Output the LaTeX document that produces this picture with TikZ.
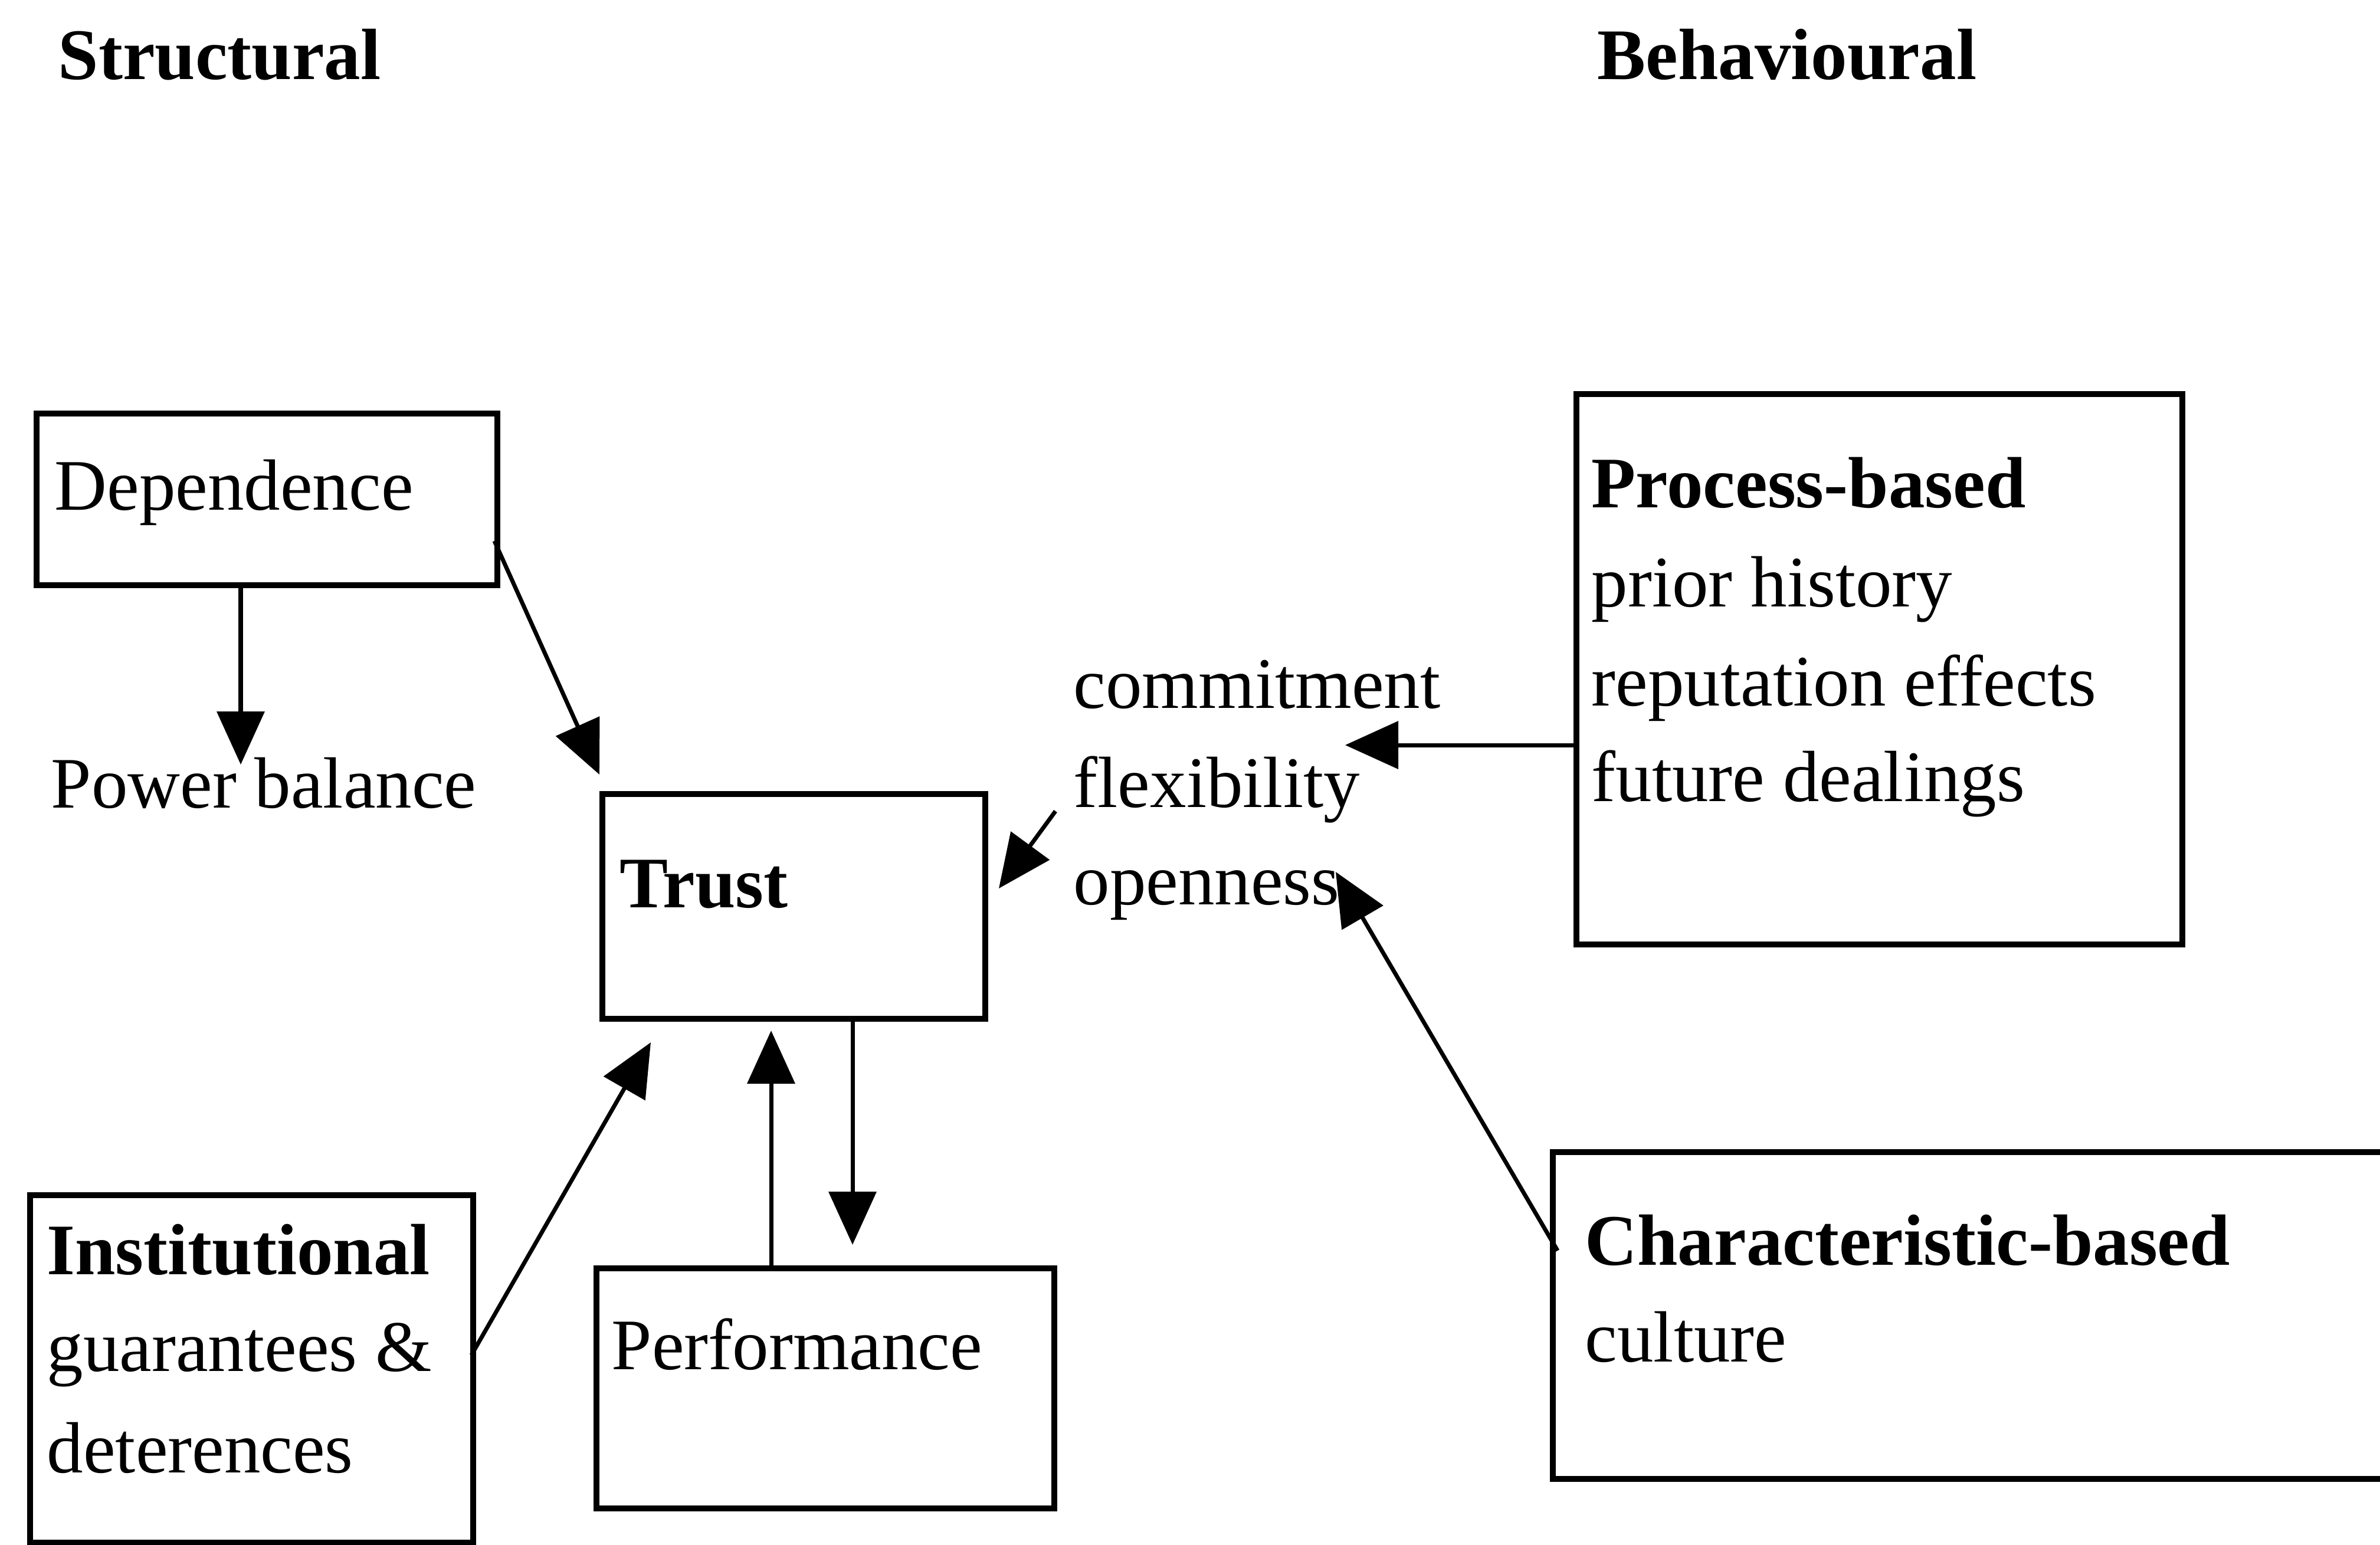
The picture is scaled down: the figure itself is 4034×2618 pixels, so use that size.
\documentclass[tikz,border=0pt]{standalone}
\usepackage{fontspec}
\setmainfont{Liberation Serif}
\usetikzlibrary{arrows.meta,calc}

\tikzset{
  box/.style={draw, line width=2.8pt, rectangle, inner sep=0pt, anchor=north west},
  txt/.style={inner sep=0pt, anchor=base west, font=\fontsize{35pt}{47pt}\selectfont},
  head/.style={txt, font=\fontsize{35pt}{47pt}\selectfont\bfseries},
  arr/.style={line width=2pt, -{Triangle[length=9mm,width=8mm]}},
}

\begin{document}
\begin{tikzpicture}[x=0.1mm, y=-0.1mm]
\useasboundingbox (0,0) rectangle (4034,2618);
\clip (0,0) rectangle (4034,2618);

% column headings
\node[head] (hstruct) at (98,134) {Structural};
\node[head] (hbehav) at (2707,134) {Behavioural};

% boxes
\node[box, minimum width=78.1mm, minimum height=29.1mm] (dep) at (57,696) {};
\node[box, minimum width=64.9mm, minimum height=38.1mm] (trust) at (1016,1341) {};
\node[box, minimum width=77.6mm, minimum height=40.7mm] (perf) at (1006,2145) {};
\node[box, minimum width=75.1mm, minimum height=58.9mm] (inst) at (46,2021) {};
\node[box, minimum width=102.7mm, minimum height=93.3mm] (proc) at (2667,663) {};
\node[box, minimum width=143.3mm, minimum height=55.4mm] (char) at (2627,1948) {};

% box texts
\node[txt] (deptxt) at (92,864) {Dependence};
\node[txt] (power) at (86,1369) {Power balance};
\node[txt, font=\fontsize{35pt}{47pt}\selectfont\bfseries] (trusttxt) at (1050,1538) {Trust};
\node[txt] (perftxt) at (1036,2321) {Performance};
\node[txt, font=\fontsize{35pt}{47pt}\selectfont\bfseries] (inst1) at (79,2160) {Institutional};
\node[txt] (inst2) at (79,2324) {guarantees \&};
\node[txt] (inst3) at (79,2496) {deterences};
\node[txt, font=\fontsize{35pt}{47pt}\selectfont\bfseries] (proc1) at (2697,860) {Process-based};
\node[txt] (proc2) at (2697,1028) {prior history};
\node[txt] (proc3) at (2697,1196) {reputation effects};
\node[txt] (proc4) at (2697,1358) {future dealings};
\node[txt, font=\fontsize{35pt}{47pt}\selectfont\bfseries] (char1) at (2686,2144) {Characteristic-based};
\node[txt] (char2) at (2686,2308) {culture};

% behavioural outcomes
\node[txt] (commit) at (1819,1200) {commitment};
\node[txt] (flex) at (1819,1368) {flexibility};
\node[txt] (open) at (1819,1533) {openness};

% arrow end points
\coordinate (pbTip) at (408,1296);
\coordinate (depOut) at (838,917);
\coordinate (trustNW) at ($(trust.north west)+(0,-28)$);
\coordinate (procOut) at (2667,1263);
\coordinate (cfoTip) at (2280,1263);
\coordinate (flexOut) at (1789,1375);
\coordinate (trustE) at (1693,1506);
\coordinate (charOut) at (2640,2120);
\coordinate (openTip) at (2264,1478);
\coordinate (instOut) at (799,2297);
\coordinate (trustSW) at (1103,1767);
\coordinate (perfUp) at (1307,1747);
\coordinate (perfDown) at (1445,2110);

% connectors
\draw[arr] (dep.south -| pbTip) -- (pbTip);
\draw[arr] (depOut) -- (trustNW);
\draw[arr] (procOut) -- (cfoTip);
\draw[arr] (flexOut) -- (trustE);
\draw[arr] (charOut) -- (openTip);
\draw[arr] (instOut) -- (trustSW);
\draw[arr] (perf.north -| perfUp) -- (perfUp);
\draw[arr] (trust.south -| perfDown) -- (perfDown);
\end{tikzpicture}
\end{document}
